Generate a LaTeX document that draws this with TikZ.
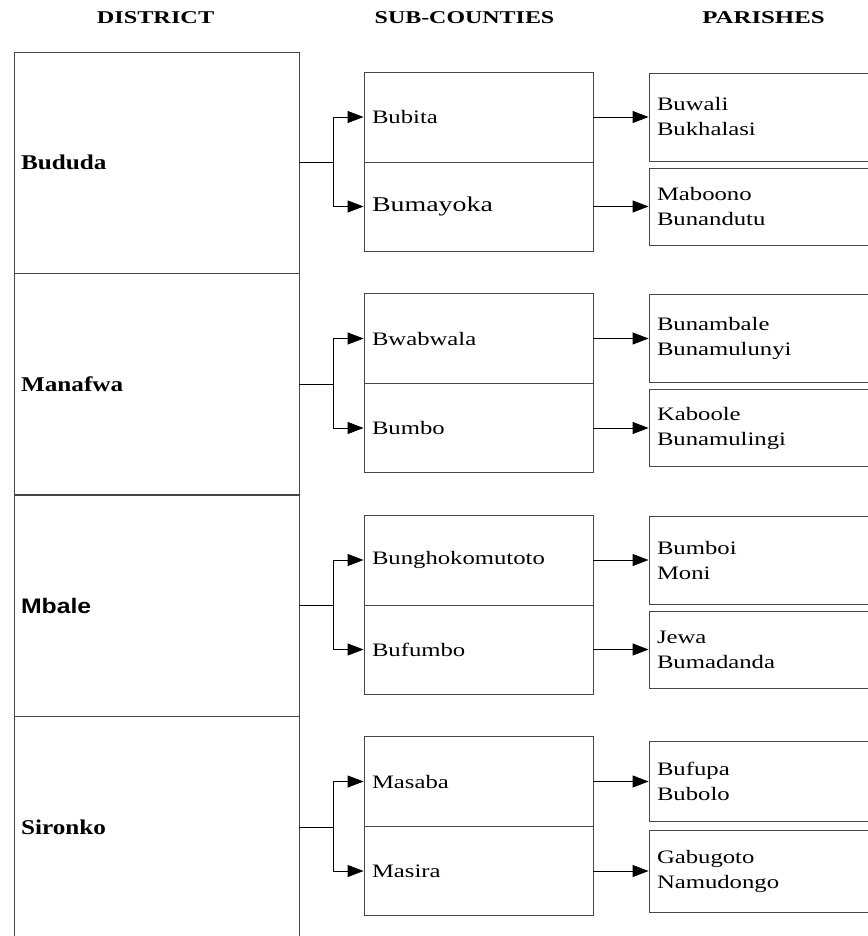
\documentclass[tikz,border=0pt]{standalone}
\usepackage{fontspec}
\setmainfont{Liberation Serif}
\newfontfamily\arialfont{Liberation Sans}
\usetikzlibrary{arrows.meta,positioning}
\definecolor{boxline}{RGB}{70,70,70}
\newcommand{\wtxt}[2][1.3]{\scalebox{#1}[1]{#2}}

\begin{document}
\begin{tikzpicture}[x=1pt, y=-1pt, >={Triangle[length=16pt,width=12pt]},
    hdr/.style={font=\fontsize{18}{22}\selectfont\bfseries, anchor=base},
    distbox/.style={draw=boxline, line width=0.9pt, minimum height=221pt, text width=271pt, inner xsep=7pt, inner ysep=0pt, align=left, font=\fontsize{21}{25}\selectfont\bfseries},
    subbox/.style={draw=boxline, line width=0.9pt, text width=213pt, inner xsep=8pt, inner ysep=0pt, align=left, font=\fontsize{19}{25}\selectfont},
    parbox/.style={draw=boxline, line width=0.9pt, text width=207pt, inner xsep=8pt, inner ysep=0pt, align=left, font=\fontsize{19}{25}\selectfont},
    link/.style={line width=0.9pt}]
    \useasboundingbox (0,0) rectangle (867,936);
    % column headings
    \node[hdr] (hdist) at (155.5,24) {\wtxt[1.35]{DISTRICT}};
    \node[hdr] (hsub) at (464.5,24) {\wtxt[1.33]{SUB-COUNTIES}};
    \node[hdr] (hpar) at (763.5,24) {\wtxt[1.38]{PARISHES}};
    % Bududa
    \begin{scope}
      \node[distbox] (d1) at (156.5,162.5) {\wtxt[1.2]{Bududa}};
      \node[subbox, minimum height=90pt] (s1a) at (478.5,117) {\wtxt{Bubita}};
      \node[subbox, minimum height=89pt] (s1b) at (478.5,206.5) {\wtxt[1.33]{\fontsize{21}{25}\selectfont Bumayoka}};
      \node[parbox, minimum height=88pt] (p1a) at (760.5,117) {\wtxt{Buwali}\\\wtxt{Bukhalasi}};
      \node[parbox, minimum height=77pt] (p1b) at (760.5,206.5) {\wtxt{Maboono}\\\wtxt{Bunandutu}};
      \coordinate (f1) at (333,162.5);
      \draw[link] (d1.east) -- (f1);
      \draw[link,->] (f1) |- (s1a.west);
      \draw[link,->] (f1) |- (s1b.west);
      \draw[link,->] (s1a.east) -- (p1a.west);
      \draw[link,->] (s1b.east) -- (p1b.west);
    \end{scope}
    % Manafwa
    \begin{scope}[yshift=-221.5pt]
      \node[distbox] (d2) at (156.5,162.5) {\wtxt[1.2]{Manafwa}};
      \node[subbox, minimum height=90pt] (s2a) at (478.5,117) {\wtxt{Bwabwala}};
      \node[subbox, minimum height=89pt] (s2b) at (478.5,206.5) {\wtxt{Bumbo}};
      \node[parbox, minimum height=88pt] (p2a) at (760.5,117) {\wtxt{Bunambale}\\\wtxt{Bunamulunyi}};
      \node[parbox, minimum height=77pt] (p2b) at (760.5,206.5) {\wtxt{Kaboole}\\\wtxt{Bunamulingi}};
      \coordinate (f2) at (333,162.5);
      \draw[link] (d2.east) -- (f2);
      \draw[link,->] (f2) |- (s2a.west);
      \draw[link,->] (f2) |- (s2b.west);
      \draw[link,->] (s2a.east) -- (p2a.west);
      \draw[link,->] (s2b.east) -- (p2b.west);
    \end{scope}
    % Mbale
    \begin{scope}[yshift=-443pt]
      \node[distbox, font=\fontsize{21}{25}\selectfont\arialfont\bfseries] (d3) at (156.5,162.5) {\wtxt[1.18]{Mbale}};
      \node[subbox, minimum height=90pt] (s3a) at (478.5,117) {\wtxt{Bunghokomutoto}};
      \node[subbox, minimum height=89pt] (s3b) at (478.5,206.5) {\wtxt{Bufumbo}};
      \node[parbox, minimum height=88pt] (p3a) at (760.5,117) {\wtxt{Bumboi}\\\wtxt{Moni}};
      \node[parbox, minimum height=77pt] (p3b) at (760.5,206.5) {\wtxt{Jewa}\\\wtxt{Bumadanda}};
      \coordinate (f3) at (333,162.5);
      \draw[link] (d3.east) -- (f3);
      \draw[link,->] (f3) |- (s3a.west);
      \draw[link,->] (f3) |- (s3b.west);
      \draw[link,->] (s3a.east) -- (p3a.west);
      \draw[link,->] (s3b.east) -- (p3b.west);
    \end{scope}
    % Sironko
    \begin{scope}[yshift=-664.5pt]
      \node[distbox] (d4) at (156.5,162.5) {\wtxt[1.2]{Sironko}};
      \node[subbox, minimum height=90pt] (s4a) at (478.5,117) {\wtxt{Masaba}};
      \node[subbox, minimum height=89pt] (s4b) at (478.5,206.5) {\wtxt{Masira}};
      \node[parbox, minimum height=80pt] (p4a) at (760.5,117) {\wtxt{Bufupa}\\\wtxt{Bubolo}};
      \node[parbox, minimum height=82pt] (p4b) at (760.5,206.5) {\wtxt{Gabugoto}\\\wtxt{Namudongo}};
      \coordinate (f4) at (333,162.5);
      \draw[link] (d4.east) -- (f4);
      \draw[link,->] (f4) |- (s4a.west);
      \draw[link,->] (f4) |- (s4b.west);
      \draw[link,->] (s4a.east) -- (p4a.west);
      \draw[link,->] (s4b.east) -- (p4b.west);
    \end{scope}
\end{tikzpicture}
\end{document}
